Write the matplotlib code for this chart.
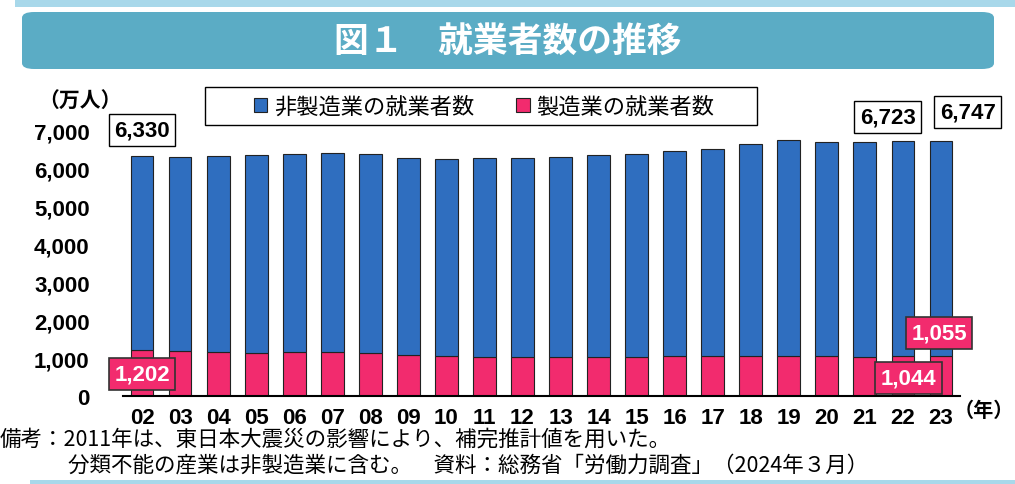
import matplotlib.pyplot as plt
from matplotlib.patches import FancyBboxPatch, Rectangle
import numpy as np

years = ["02", "03", "04", "05", "06", "07", "08", "09", "10", "11", "12",
         "13", "14", "15", "16", "17", "18", "19", "20", "21", "22", "23"]
total = [6330, 6316, 6329, 6356, 6382, 6412, 6385, 6282, 6257, 6293, 6280,
         6326, 6371, 6401, 6465, 6530, 6664, 6750, 6710, 6713, 6723, 6747]
manuf = [1202, 1178, 1150, 1142, 1161, 1165, 1144, 1073, 1049, 1037, 1032,
         1039, 1040, 1035, 1045, 1052, 1060, 1063, 1045, 1037, 1044, 1055]
nonmanuf = [t - m for t, m in zip(total, manuf)]

BLUE = "#2F6EBF"
PINK = "#F22B6E"
JP = ["Noto Sans CJK JP", "DejaVu Sans"]
NUM = ["Liberation Sans", "DejaVu Sans"]

fig = plt.figure(figsize=(10.15, 4.85), dpi=100)

# top decoration and title banner
fig.patches.append(Rectangle((15 / 1015, 477 / 485), 1000 / 1015, 8 / 485,
                             transform=fig.transFigure, color="#A8D8EA", lw=0))
fig.patches.append(FancyBboxPatch((22 / 1015, 415 / 485), 972 / 1015, 57 / 485,
                                  boxstyle="round,pad=0,rounding_size=0.012",
                                  transform=fig.transFigure, color="#5BACC5", lw=0))
fig.patches.append(Rectangle((30 / 1015, 0), 985 / 1015, 4 / 485,
                             transform=fig.transFigure, color="#A8D8EA", lw=0))
fig.text(0.5, 443 / 485, "図１　就業者数の推移", color="white", fontsize=25,
         fontweight="bold", ha="center", va="center", family=JP)

ax = fig.add_axes([123 / 1015, 88 / 485, 837 / 1015, 265 / 485])
x = np.arange(len(years))
ax.bar(x, manuf, width=0.6, color=PINK, edgecolor="#222222", linewidth=0.8,
       label="製造業の就業者数")
ax.bar(x, nonmanuf, width=0.6, bottom=manuf, color=BLUE, edgecolor="#222222",
       linewidth=0.8, label="非製造業の就業者数")

ax.set_xlim(-0.5, len(years) - 0.5)
ax.set_ylim(0, 7000)
ax.set_yticks(range(0, 7001, 1000))
ax.set_yticklabels(["0"] + [f"{v // 1000},000" for v in range(1000, 7001, 1000)])
ax.set_xticks(x)
ax.set_xticklabels(years)
for lab in ax.get_xticklabels() + ax.get_yticklabels():
    lab.set_family(NUM)
    lab.set_fontsize(16)
    lab.set_fontweight("bold")
ax.tick_params(length=0)
ax.tick_params(axis="y", pad=24)
ax.tick_params(axis="x", pad=8)
for s in ["left", "right", "top"]:
    ax.spines[s].set_visible(False)
ax.spines["bottom"].set_linewidth(1.5)

# value labels
white_box = dict(boxstyle="square,pad=0.25", fc="white", ec="black", lw=1)
pink_box = dict(boxstyle="square,pad=0.25", fc=PINK, ec="#333333", lw=1.2)
for xx, yy, txt in [(0, 7030, "6,330"), (19.6, 7370, "6,723"), (21.7, 7500, "6,747")]:
    ax.text(xx, yy, txt, ha="center", va="center", fontsize=16, fontweight="bold",
            family=NUM, bbox=white_box, clip_on=False)
for xx, yy, txt in [(0, 580, "1,202"), (20.15, 475, "1,044"), (20.95, 1665, "1,055")]:
    ax.text(xx, yy, txt, ha="center", va="center", fontsize=16, fontweight="bold",
            color="white", family=NUM, bbox=pink_box, clip_on=False, zorder=5)

# legend (frame drawn separately to match the wide box)
fig.patches.append(Rectangle((205 / 1015, 359 / 485), 552 / 1015, 38 / 485,
                             transform=fig.transFigure, fc="white", ec="black", lw=1))
h, l = ax.get_legend_handles_labels()
leg = fig.legend(h[::-1], l[::-1], loc="center", bbox_to_anchor=(484 / 1015, 378 / 485),
                 ncol=2, frameon=False, prop={"family": JP, "size": 16},
                 handlelength=0.6, handleheight=0.6, handletextpad=0.3,
                 columnspacing=1.9, borderpad=0.3, borderaxespad=0)

fig.text(38 / 1015, 384 / 485, "（万人）", fontsize=15, fontweight="bold",
         ha="left", va="center", family=JP)
fig.text(1014 / 1015, 75 / 485, "（年）", fontsize=14.5, fontweight="bold",
         ha="right", va="center", family=JP)

fig.text(0, 45 / 485, "備考：2011年は、東日本大震災の影響により、補完推計値を用いた。",
         fontsize=15.5, ha="left", va="center", family=JP)
fig.text(68 / 1015, 19 / 485,
         "分類不能の産業は非製造業に含む。　資料：総務省「労働力調査」（2024年３月）",
         fontsize=15.5, ha="left", va="center", family=JP)

fig.savefig("out.png", dpi=100)
